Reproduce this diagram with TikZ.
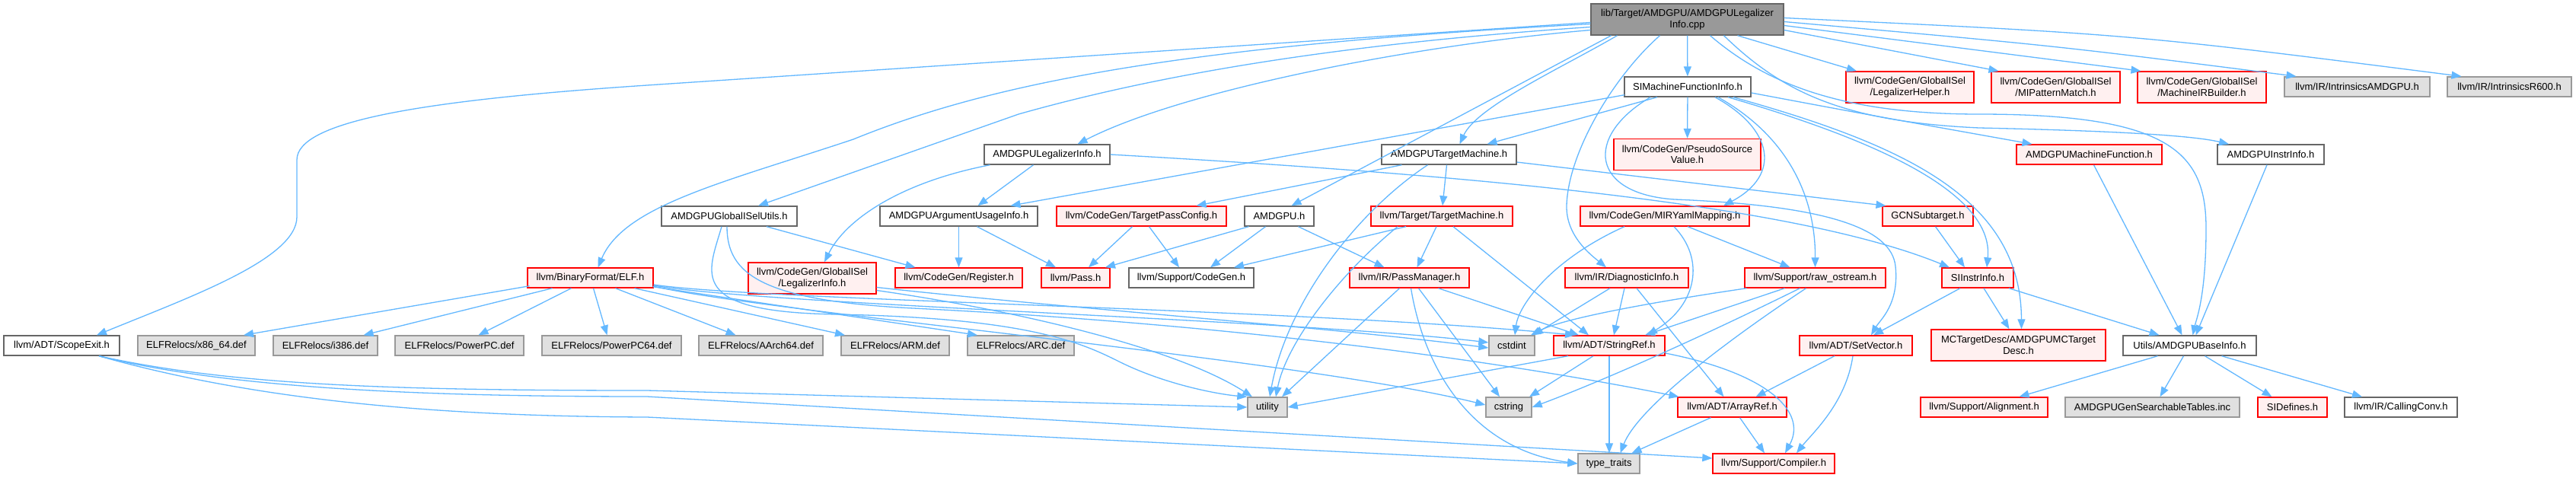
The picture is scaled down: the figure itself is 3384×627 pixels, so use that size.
\documentclass[tikz,border=0pt]{standalone}
\usepackage{fontspec}
\newfontfamily\dfont{Liberation Sans}
\usetikzlibrary{arrows.meta}
\definecolor{cedge}{HTML}{63B8FF}
\definecolor{cred}{HTML}{FF0000}
\definecolor{cpink}{HTML}{FFF0F0}
\definecolor{cgreyE}{HTML}{E0E0E0}
\definecolor{cgnn}{HTML}{999999}
\definecolor{cgss}{HTML}{666666}
\begin{document}
\begin{tikzpicture}[x=1pt,y=-1pt,
  nd/.style={draw, line width=1.4pt, inner sep=0pt, minimum height=26pt, align=center, anchor=center,
    font=\dfont\fontsize{13}{14.5}\selectfont},
  tall/.style={minimum height=41pt},
  wnode/.style={nd, draw=cgss, fill=white},
  rnode/.style={nd, draw=cred, fill=cpink},
  gnode/.style={nd, draw=cgnn, fill=cgreyE},
  mnode/.style={nd, draw=cgss, fill=cgnn},
  dep/.style={draw=cedge, line width=1.3pt, -{Triangle[length=13pt,width=10pt]}}]
\fill[white] (0,0) rectangle (3384,627);
\useasboundingbox (0,0) rectangle (3384,627);

% ---- nodes ----
\node[mnode, tall, minimum width=253pt] (main) at (2216.5,25.5) {lib/Target/AMDGPU/AMDGPULegalizer\\Info.cpp};
\node[wnode, minimum width=165pt] (legh) at (1375.5,203) {AMDGPULegalizerInfo.h};
\node[wnode, minimum width=178pt] (gisel) at (958,284) {AMDGPUGlobalISelUtils.h};
\node[wnode, minimum width=207pt] (argu) at (1259.5,284) {AMDGPUArgumentUsageInfo.h};
\node[rnode, minimum width=223pt] (tpc) at (1499.5,284) {llvm/CodeGen/TargetPassConfig.h};
\node[wnode, minimum width=91pt] (amdgpuh) at (1680.5,284) {AMDGPU.h};
\node[wnode, minimum width=166pt] (simfi) at (2217,114) {SIMachineFunctionInfo.h};
\node[wnode, minimum width=177pt] (amdtm) at (1903.5,203) {AMDGPUTargetMachine.h};
\node[rnode, tall, minimum width=193pt] (pseudo) at (2216.5,203) {llvm/CodeGen/PseudoSource\\Value.h};
\node[rnode, tall, minimum width=168pt] (leghelp) at (2509,114.5) {llvm/CodeGen/GlobalISel\\/LegalizerHelper.h};
\node[rnode, minimum width=186pt] (tm) at (1894,284) {llvm/Target/TargetMachine.h};
\node[rnode, minimum width=222pt] (mir) at (2187,284) {llvm/CodeGen/MIRYamlMapping.h};
\node[rnode, minimum width=119pt] (gcn) at (2532.5,284) {GCNSubtarget.h};
\node[rnode, tall, minimum width=169pt] (mipm) at (2700.5,114.5) {llvm/CodeGen/GlobalISel\\/MIPatternMatch.h};
\node[rnode, tall, minimum width=169pt] (mirb) at (2892.5,114.5) {llvm/CodeGen/GlobalISel\\/MachineIRBuilder.h};
\node[gnode, minimum width=191pt] (intamd) at (3096.5,114) {llvm/IR/IntrinsicsAMDGPU.h};
\node[gnode, minimum width=163pt] (intr600) at (3296.5,114) {llvm/IR/IntrinsicsR600.h};
\node[rnode, minimum width=191pt] (amdmf) at (2744.5,203) {AMDGPUMachineFunction.h};
\node[wnode, minimum width=140pt] (amdii) at (2983,203) {AMDGPUInstrInfo.h};
\node[rnode, minimum width=165pt] (elf) at (775.5,365) {llvm/BinaryFormat/ELF.h};
\node[wnode, minimum width=152pt] (scope) at (81,454) {llvm/ADT/ScopeExit.h};
\node[gnode, minimum width=154pt] (x86) at (258,454) {ELFRelocs/x86\_64.def};
\node[gnode, minimum width=137pt] (i386) at (427.5,454) {ELFRelocs/i386.def};
\node[gnode, minimum width=169pt] (ppc) at (603.5,454) {ELFRelocs/PowerPC.def};
\node[gnode, minimum width=183pt] (ppc64) at (803.5,454) {ELFRelocs/PowerPC64.def};
\node[gnode, minimum width=163pt] (aarch64) at (999.5,454) {ELFRelocs/AArch64.def};
\node[gnode, minimum width=142pt] (arm) at (1176,454) {ELFRelocs/ARM.def};
\node[gnode, minimum width=140pt] (arc) at (1341,454) {ELFRelocs/ARC.def};
\node[rnode, tall, minimum width=168pt] (glegi) at (1067,365.5) {llvm/CodeGen/GlobalISel\\/LegalizerInfo.h};
\node[rnode, minimum width=167pt] (reg) at (1259.5,365) {llvm/CodeGen/Register.h};
\node[rnode, minimum width=90pt] (pass) at (1413,365) {llvm/Pass.h};
\node[wnode, minimum width=164pt] (cgen) at (1565,365) {llvm/Support/CodeGen.h};
\node[gnode, minimum width=52pt] (utility) at (1665,535) {utility};
\node[rnode, minimum width=157pt] (pm) at (1851.5,365) {llvm/IR/PassManager.h};
\node[rnode, minimum width=162pt] (diag) at (2137,365) {llvm/IR/DiagnosticInfo.h};
\node[rnode, minimum width=185pt] (raw) at (2384.5,365) {llvm/Support/raw\_ostream.h};
\node[gnode, minimum width=60pt] (cstdint) at (1986,454) {cstdint};
\node[rnode, minimum width=146pt] (sref) at (2114,454) {llvm/ADT/StringRef.h};
\node[rnode, minimum width=148pt] (setv) at (2438,454) {llvm/ADT/SetVector.h};
\node[gnode, minimum width=60pt] (cstring) at (1982,535) {cstring};
\node[rnode, minimum width=143pt] (aref) at (2275.5,535) {llvm/ADT/ArrayRef.h};
\node[gnode, minimum width=81pt] (tt) at (2113.5,609) {type\_traits};
\node[rnode, minimum width=160pt] (comp) at (2330,609) {llvm/Support/Compiler.h};
\node[rnode, minimum width=94pt] (siii) at (2598,365) {SIInstrInfo.h};
\node[rnode, tall, minimum width=229pt] (mcd) at (2651.5,453.5) {MCTargetDesc/AMDGPUMCTarget\\Desc.h};
\node[wnode, minimum width=175pt] (base) at (2876.5,454) {Utils/AMDGPUBaseInfo.h};
\node[rnode, minimum width=167pt] (align) at (2606.5,535) {llvm/Support/Alignment.h};
\node[gnode, minimum width=229pt] (gst) at (2827.5,535) {AMDGPUGenSearchableTables.inc};
\node[rnode, minimum width=91pt] (sidef) at (3011.5,535) {SIDefines.h};
\node[wnode, minimum width=148pt] (cc) at (3154,535) {llvm/IR/CallingConv.h};

% ---- edges from main ----
\draw[dep] ([yshift=-4pt]main.west) -- (850,112) .. controls (550,132) and (390,160) .. (390,210) -- (390,285) .. controls (390,340) and (250,390) .. ([xshift=46pt]scope.north);
\draw[dep] ([yshift=-6pt]main.west) .. controls (1550,60) and (1300,110) .. (1121,183) .. controls (950,240) and (820,270) .. ([xshift=10pt]elf.north);
\draw[dep] ([yshift=-10pt]main.west) .. controls (1800,55) and (1550,90) .. (1338,150) -- ([xshift=38pt]gisel.north);
\draw[dep] ([yshift=-14pt]main.west) .. controls (1850,60) and (1550,120) .. ([xshift=40pt]legh.north);
\draw[dep] ([xshift=-100pt]main.south) -- ([xshift=16pt]amdgpuh.north);
\draw[dep] ([xshift=-92pt]main.south) .. controls (2050,90) and (1940,140) .. ([xshift=14pt]amdtm.north);
\draw[dep] ([xshift=-36pt]main.south) .. controls (2120,100) and (2060,200) .. (2058,270) .. controls (2057,310) and (2090,335) .. ([xshift=-27pt]diag.north);
\draw[dep] (main) -- (simfi);
\draw[dep] ([xshift=30pt]main.south) .. controls (2320,110) and (2420,150) .. (2600,150) .. controls (2850,150) and (2898,200) .. (2898,300) .. controls (2898,390) and (2885,420) .. ([xshift=4pt]base.north);
\draw[dep] ([xshift=48pt]main.south) .. controls (2340,120) and (2420,160) .. (2600,168) .. controls (2780,172) and (2880,178) .. ([xshift=-55pt]amdii.north);
\draw[dep] ([xshift=66pt]main.south) -- ([xshift=-70pt]leghelp.north);
\draw[dep] ([yshift=-14pt]main.east) -- ([xshift=-75pt]mipm.north);
\draw[dep] ([yshift=-8pt]main.east) -- ([xshift=-80pt]mirb.north);
\draw[dep] ([yshift=-3pt]main.east) .. controls (2700,60) .. ([xshift=-80pt]intamd.north);
\draw[dep] ([yshift=2pt]main.east) .. controls (2800,45) .. ([xshift=-63pt]intr600.north);

% ---- AMDGPULegalizerInfo.h ----
\draw[dep] ([xshift=-18pt]legh.south) -- ([xshift=25pt]argu.north);
\draw[dep] ([xshift=-75pt]legh.south) .. controls (1180,240) and (1110,290) .. ([xshift=16pt]glegi.north);
\draw[dep] (legh.east) .. controls (1900,228) and (2350,265) .. ([xshift=-37pt]siii.north);

% ---- AMDGPUGlobalISelUtils.h ----
\draw[dep] ([xshift=49pt]gisel.south) -- ([xshift=-57pt]reg.north);
\draw[dep] ([xshift=-10pt]gisel.south) .. controls (930,360) and (900,410) .. (1100,413) .. controls (1350,418) and (1420,450) .. (1470,475) .. controls (1530,505) and (1600,518) .. (utility.north west);
\draw[dep] ([xshift=-3pt]gisel.south) .. controls (955,360) and (1000,395) .. (1200,405) .. controls (1600,425) and (1950,470) .. ([xshift=-70pt]aref.north);

% ---- argument usage, pass config, AMDGPU.h ----
\draw[dep] (argu.south) -- (reg.north);
\draw[dep] ([xshift=24pt]argu.south) -- ([xshift=-26pt]pass.north);
\draw[dep] ([xshift=-12pt]tpc.south) -- ([xshift=17pt]pass.north);
\draw[dep] ([xshift=10pt]tpc.south) -- ([xshift=-16pt]cgen.north);
\draw[dep] ([xshift=-40pt]amdgpuh.south) -- ([xshift=39pt]pass.north);
\draw[dep] ([xshift=-18pt]amdgpuh.south) -- ([xshift=25pt]cgen.north);
\draw[dep] ([xshift=25pt]amdgpuh.south) -- ([xshift=-33pt]pm.north);

% ---- AMDGPUTargetMachine.h ----
\draw[dep] ([xshift=-62pt]amdtm.south) .. controls (1750,235) .. ([xshift=72pt]tpc.north);
\draw[dep] ([xshift=-3pt]amdtm.south) -- ([xshift=1pt]tm.north);
\draw[dep] ([yshift=-10pt]amdtm.east) -- ([xshift=-55pt]gcn.north);
\draw[dep] ([xshift=-28pt]amdtm.south) .. controls (1780,280) and (1690,400) .. ([xshift=3pt]utility.north);

% ---- SIMachineFunctionInfo.h ----
\draw[dep] ([xshift=-83pt,yshift=3pt]simfi.south) -- ([xshift=68pt]argu.north);
\draw[dep] ([xshift=-40pt]simfi.south) -- ([xshift=50pt]amdtm.north);
\draw[dep] (simfi) -- (pseudo);
\draw[dep] ([xshift=36pt]simfi.south) .. controls (2330,170) and (2340,230) .. ([xshift=77pt]mir.north);
\draw[dep] ([xshift=-49pt]simfi.south) .. controls (2080,180) and (2090,255) .. (2200,262) .. controls (2400,270) and (2485,300) .. (2490,350) .. controls (2495,400) and (2470,420) .. ([xshift=20pt]setv.north);
\draw[dep] ([xshift=40pt]simfi.south) .. controls (2350,180) and (2385,260) .. (raw.north);
\draw[dep] ([xshift=53pt]simfi.south) .. controls (2450,180) and (2620,250) .. ([xshift=12pt]siii.north);
\draw[dep] ([yshift=-8pt]simfi.east) .. controls (2450,150) .. ([xshift=-75pt]amdmf.north);
\draw[dep] ([xshift=60pt]simfi.south) .. controls (2500,190) and (2655,260) .. ([xshift=4pt]mcd.north);

% ---- llvm/Target/TargetMachine.h ----
\draw[dep] ([xshift=-47pt]tm.south) -- ([xshift=56pt]cgen.north);
\draw[dep] ([xshift=-7pt]tm.south) -- ([xshift=10pt]pm.north);
\draw[dep] ([xshift=-58pt]tm.south) .. controls (1760,360) and (1690,450) .. ([xshift=11pt]utility.north);
\draw[dep] ([xshift=15pt]tm.south) -- ([xshift=-27pt]sref.north);

% ---- PassManager ----
\draw[dep] ([xshift=-13pt]pm.south) -- ([xshift=19pt]utility.north);
\draw[dep] ([xshift=2pt]pm.south) .. controls (1870,480) and (1930,590) .. (tt.west);
\draw[dep] ([xshift=12pt]pm.south) -- ([xshift=-12pt]cstring.north);
\draw[dep] ([xshift=38pt]pm.south) -- ([xshift=-40pt]sref.north);

% ---- DiagnosticInfo ----
\draw[dep] ([xshift=-22pt]diag.south) -- ([xshift=28pt]cstdint.north);
\draw[dep] ([xshift=-3pt]diag.south) -- ([xshift=6pt]sref.north);
\draw[dep] ([xshift=13pt]diag.south) -- ([xshift=-11pt]aref.north);

% ---- raw_ostream ----
\draw[dep] ([xshift=-90pt]raw.south) .. controls (2150,400) and (2050,420) .. ([xshift=25pt]cstdint.north);
\draw[dep] ([xshift=-40pt]raw.south) -- ([xshift=47pt]sref.north);
\draw[dep] ([xshift=-20pt]raw.south) .. controls (2200,460) and (2080,510) .. (cstring.east);
\draw[dep] ([xshift=-12pt]raw.south) .. controls (2250,460) and (2150,540) .. ([xshift=15pt]tt.north);

% ---- MIRYamlMapping ----
\draw[dep] ([xshift=-53pt]mir.south) .. controls (2040,340) and (1995,400) .. ([xshift=4pt]cstdint.north);
\draw[dep] ([xshift=30pt]mir.south) -- ([xshift=-33pt]raw.north);
\draw[dep] ([xshift=12pt]mir.south) .. controls (2240,340) and (2230,400) .. ([xshift=50pt]sref.north);

% ---- GCNSubtarget, SIInstrInfo ----
\draw[dep] ([xshift=10pt]gcn.south) -- ([xshift=-17pt]siii.north);
\draw[dep] ([xshift=-23pt]siii.south) -- ([xshift=23pt]setv.north);
\draw[dep] ([xshift=8pt]siii.south) -- ([xshift=-12pt]mcd.north);
\draw[dep] ([xshift=41pt]siii.south) -- ([xshift=-40pt]base.north);

% ---- machine function, instr info ----
\draw[dep] ([xshift=6pt]amdmf.south) -- ([xshift=-10pt]base.north);
\draw[dep] ([xshift=-5pt]amdii.south) -- ([xshift=8pt]base.north);

% ---- AMDGPUBaseInfo ----
\draw[dep] ([xshift=-42pt]base.south) -- ([xshift=46pt]align.north);
\draw[dep] ([xshift=-8pt]base.south) -- ([xshift=10pt]gst.north);
\draw[dep] ([xshift=20pt]base.south) -- ([xshift=-27pt]sidef.north);
\draw[dep] ([xshift=42pt]base.south) -- ([xshift=-51pt]cc.north);

% ---- SetVector, StringRef, ArrayRef ----
\draw[dep] ([xshift=-28pt]setv.south) -- ([xshift=31pt]aref.north);
\draw[dep] ([xshift=-4pt]setv.south) .. controls (2425,530) and (2380,570) .. ([xshift=30pt]comp.north);
\draw[dep] ([xshift=-54pt]sref.south) -- (utility.east);
\draw[dep] ([xshift=-21pt]sref.south) -- ([xshift=27pt]cstring.north);
\draw[dep] (sref.south) -- ([xshift=0.5pt]tt.north);
\draw[dep] ([yshift=-10pt]sref.east) .. controls (2320,490) and (2375,540) .. ([xshift=15pt]comp.north);
\draw[dep] ([xshift=-28pt]aref.south) -- ([xshift=30pt]tt.north);
\draw[dep] ([xshift=10pt]aref.south) -- ([xshift=-12pt]comp.north);

% ---- ScopeExit ----
\draw[dep] ([xshift=49pt]scope.south) .. controls (300,505) and (500,513) .. (850,513) -- (utility.west);
\draw[dep] ([xshift=49pt]scope.south) .. controls (300,510) and (550,521) .. (850,521) -- ([yshift=7pt]comp.west);
\draw[dep] ([xshift=49pt]scope.south) .. controls (350,530) and (600,547) .. (850,548) -- (tt.west);

% ---- ELF.h ----
\draw[dep] ([xshift=-80pt,yshift=3pt]elf.south) -- ([xshift=62pt]x86.north);
\draw[dep] ([xshift=-50pt]elf.south) -- ([xshift=50pt]i386.north);
\draw[dep] ([xshift=-25pt]elf.south) -- ([xshift=25pt]ppc.north);
\draw[dep] ([xshift=4pt]elf.south) -- ([xshift=-6pt]ppc64.north);
\draw[dep] ([xshift=33pt]elf.south) -- ([xshift=-33pt]aarch64.north);
\draw[dep] ([xshift=58pt]elf.south) -- ([xshift=-66pt]arm.north);
\draw[dep] ([xshift=82pt,yshift=2pt]elf.south) -- ([xshift=-57pt]arc.north);
\draw[dep] ([yshift=-9pt]elf.east) .. controls (1000,395) and (1700,405) .. ([xshift=-45pt]sref.north);
\draw[dep] ([yshift=-10pt]elf.east) .. controls (1000,400) and (1700,420) .. ([yshift=4pt]cstdint.west);
\draw[dep] ([yshift=-11pt]elf.east) .. controls (1000,410) and (1700,470) .. ([yshift=3pt]cstring.west);

% ---- GlobalISel/LegalizerInfo.h ----
\draw[dep] ([yshift=-12pt]glegi.east) .. controls (1400,405) and (1750,430) .. ([yshift=-3pt]cstdint.west);
\draw[dep] ([yshift=-16pt]glegi.east) .. controls (1350,410) and (1550,460) .. ([xshift=-20pt]utility.north);
\end{tikzpicture}
\end{document}
